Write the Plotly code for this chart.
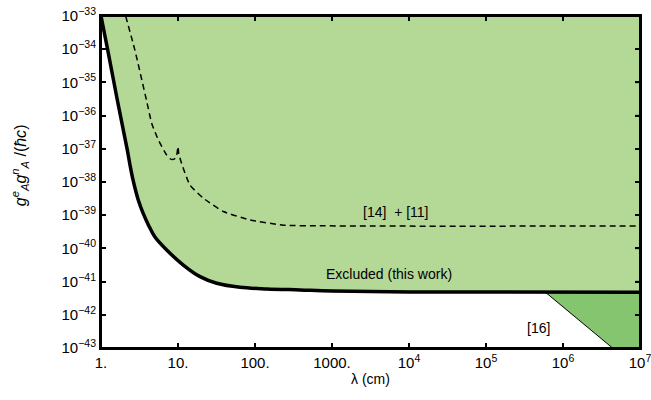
import plotly.graph_objects as go

# ---- data ----
this_work_lam = [1.0, 1.222, 1.629, 2.198, 2.382, 2.606, 2.805, 3.048, 3.508, 4.140, 5.023,
                 7.129, 11.72, 19.32, 31.84, 63.83, 141.9, 383.7, 1000, 1e4, 1e7]
this_work_g = [1e-33, 9.55e-35, 2.95e-36, 9.12e-38, 3.24e-38, 1.15e-38, 5.75e-39, 2.88e-39,
               1.17e-39, 5.01e-40, 2.19e-40, 8.91e-41, 3.16e-41, 1.41e-41, 8.91e-42,
               6.76e-42, 6.03e-42, 5.62e-42, 5.25e-42, 4.9e-42, 4.79e-42]

ref14_11_lam = [2.09, 2.75, 3.89, 4.55, 5.25, 5.83, 7.13, 7.94, 8.71, 9.44, 9.77, 10.0,
                10.23, 11.14, 14.3, 21.4, 38.9, 87, 234, 692, 3160, 1e7]
ref14_11_g = [1e-33, 9.5e-35, 2.95e-36, 5.9e-37, 2.5e-37, 1.48e-37, 6.5e-38, 5.0e-38,
              4.8e-38, 5.4e-38, 7.9e-38, 1.17e-37, 7.1e-38, 3.6e-38, 8.1e-39, 3.24e-39,
              1.29e-39, 7.2e-40, 5.0e-40, 4.8e-40, 4.7e-40, 4.7e-40]

ref16_lam = [5.9e5, 1e7, 1e7, 4.4e6]
ref16_g = [4.79e-42, 4.79e-42, 1e-43, 1e-43]

x_tickvals = [1, 10, 100, 1000, 1e4, 1e5, 1e6, 1e7]
x_ticktext = ["1.", "10.", "100.", "1000.", "10<sup>4</sup>", "10<sup>5</sup>",
              "10<sup>6</sup>", "10<sup>7</sup>"]
y_exps = list(range(-43, -32))
y_tickvals = [10.0 ** e for e in y_exps]
y_ticktext = ["10<sup>\u2212%d</sup>" % (-e) for e in y_exps]

LIGHT = "rgb(180,216,150)"
DARK = "rgb(134,197,112)"

fig = go.Figure()

# [16] region
fig.add_trace(go.Scatter(
    x=ref16_lam, y=ref16_g, fill="toself", fillcolor=DARK,
    line=dict(width=0), mode="lines", hoverinfo="skip", showlegend=False))
fig.add_trace(go.Scatter(
    x=[ref16_lam[0], ref16_lam[3]], y=[ref16_g[0], ref16_g[3]],
    mode="lines", line=dict(color="black", width=1), showlegend=False))

# top boundary for the excluded fill
fig.add_trace(go.Scatter(
    x=[1.0, 1e7], y=[1e-33, 1e-33], mode="lines", line=dict(width=0),
    hoverinfo="skip", showlegend=False))
# this work: solid curve, filled up to the top boundary
fig.add_trace(go.Scatter(
    x=this_work_lam, y=this_work_g, mode="lines", fill="tonexty", fillcolor=LIGHT,
    line=dict(color="black", width=3.5, shape="spline", smoothing=1.0),
    showlegend=False))

# [14] + [11] dashed
fig.add_trace(go.Scatter(
    x=ref14_11_lam, y=ref14_11_g, mode="lines",
    line=dict(color="black", width=1.5, dash="6px,4px", shape="spline", smoothing=0.5),
    showlegend=False))

FAM = "Liberation Sans, Arial, sans-serif"
font = dict(family=FAM, size=14, color="black")
tickfont = dict(family=FAM, size=15, color="black")

common = dict(ticks="inside", ticklen=5, tickwidth=1.5, tickcolor="black",
              showline=True, linecolor="black", linewidth=2, mirror="ticks",
              showgrid=False, zeroline=False, ticklabeloverflow="allow")

# top / right tick marks and frame, derived from the tick lists
shapes = [dict(type="rect", xref="paper", yref="paper", x0=0, x1=1, y0=0, y1=1,
               line=dict(color="black", width=2), layer="above")]
for v in x_tickvals:
    shapes.append(dict(type="line", xref="x", yref="paper", x0=v, x1=v, y0=1, y1=0.985,
                       line=dict(color="black", width=1.5), layer="above"))
for v in y_tickvals:
    shapes.append(dict(type="line", xref="paper", yref="y", x0=1, x1=0.991, y0=v, y1=v,
                       line=dict(color="black", width=1.5), layer="above"))

fig.update_layout(
    width=651, height=400,
    margin=dict(l=101, r=11, t=16, b=52),
    paper_bgcolor="white", plot_bgcolor="white",
    font=font,
    xaxis=dict(type="log", range=[0, 7], tickvals=x_tickvals, ticktext=x_ticktext,
               tickfont=tickfont, automargin=False,
               title=dict(text="\u03bb (cm)", standoff=4, font=font), **common),
    yaxis=dict(type="log", range=[-43, -33], tickvals=y_tickvals, ticktext=y_ticktext,
               tickfont=tickfont, automargin=False, **common),
    shapes=shapes,
    annotations=[
        dict(x=-0.150, y=0.551, xref="paper", yref="paper", textangle=-90,
             text="<i>g</i><sup><i>e</i></sup><sub><i>A</i></sub><i>g</i><sup><i>n</i></sup><sub><i>A</i></sub> /(<i>\u0127c</i>)",
             showarrow=False, xanchor="center", yanchor="middle",
             font=dict(family=FAM, size=16, color="black")),
        dict(x=3.83, y=-38.9, xref="x", yref="y", text="[14]  + [11]",
             showarrow=False, font=font),
        dict(x=3.74, y=-40.77, xref="x", yref="y", text="Excluded (this work)",
             showarrow=False, font=font),
        dict(x=5.68, y=-42.4, xref="x", yref="y", text="[16]",
             showarrow=False, font=font),
    ],
)

fig.write_html("out.html", config={"displayModeBar": False},
               post_script="document.body.style.margin='0';")
